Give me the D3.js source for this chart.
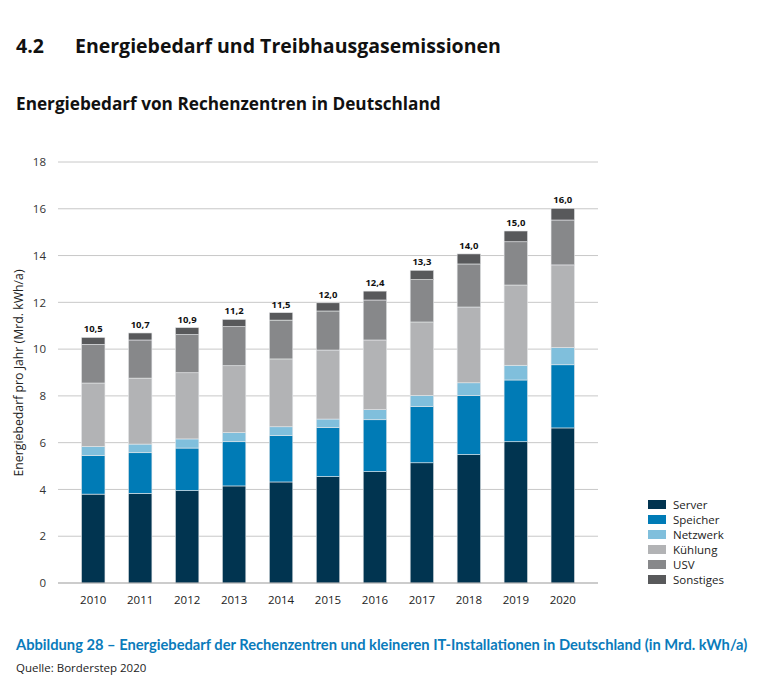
<!DOCTYPE html>
<html><head><meta charset="utf-8">
<script src="https://cdn.jsdelivr.net/npm/d3@7"></script>
<style>
body{margin:0;background:#fff;}
svg{display:block;font-family:"Open Sans",Lato,sans-serif;}
</style></head>
<body>
<svg id="c" width="757" height="690"></svg>
<script>
const years = ["2010","2011","2012","2013","2014","2015","2016","2017","2018","2019","2020"];
const seriesNames = ["Server","Speicher","Netzwerk","Kühlung","USV","Sonstiges"];
const server    = [3.80,3.83,3.95,4.15,4.32,4.55,4.76,5.14,5.49,6.04,6.63];
const speicher  = [1.65,1.74,1.82,1.89,1.98,2.09,2.22,2.40,2.53,2.64,2.70];
const netzwerk  = [0.39,0.37,0.39,0.39,0.38,0.37,0.43,0.48,0.54,0.63,0.74];
const kuehlung  = [2.71,2.82,2.83,2.86,2.90,2.95,2.98,3.14,3.24,3.43,3.53];
const usv       = [1.65,1.63,1.63,1.67,1.66,1.67,1.71,1.81,1.84,1.85,1.92];
const sonstiges = [0.30,0.30,0.30,0.31,0.32,0.35,0.38,0.40,0.43,0.46,0.50];
const totals    = ["10,5","10,7","10,9","11,2","11,5","12,0","12,4","13,3","14,0","15,0","16,0"];
const yTicks    = [0,2,4,6,8,10,12,14,16,18];
const colors    = ["#013450","#007bb6","#80bfdc","#b2b3b5","#87888a","#58595b"];

const FONT = "'Open Sans',Lato,sans-serif";
const svg = d3.select("#c");
const seriesVals = [server,speicher,netzwerk,kuehlung,usv,sonstiges];
const rows = years.map((y,i)=>{const o={year:y}; seriesNames.forEach((s,k)=>o[s]=seriesVals[k][i]); return o;});

const x = d3.scaleBand().domain(years).range([58,598]).paddingInner(0.5).paddingOuter(0.5);
const y = d3.scaleLinear().domain([0,18]).range([583,162]);

// title texts
svg.append("text").attr("x",16).attr("y",53).attr("font-size",19.5).attr("font-weight",700).attr("fill","#111").text("4.2");
svg.append("text").attr("x",75).attr("y",53).attr("font-size",19.5).attr("font-weight",700).attr("fill","#111").text("Energiebedarf und Treibhausgasemissionen");
svg.append("text").attr("x",16).attr("y",110).attr("font-size",17.2).attr("font-weight",700).attr("fill","#111").text("Energiebedarf von Rechenzentren in Deutschland");

// gridlines
svg.append("g").selectAll("line").data(yTicks.filter(d=>d>0)).join("line")
  .attr("x1",58).attr("x2",598).attr("y1",d=>y(d)).attr("y2",d=>y(d))
  .attr("stroke","#c8c8c8").attr("stroke-width",1);

// y axis
const ya = svg.append("g").attr("transform","translate(58,0)")
  .call(d3.axisLeft(y).tickValues(yTicks).tickSize(0).tickPadding(12).tickFormat(d3.format("d")));
ya.select(".domain").remove();
ya.selectAll("text").attr("font-size",11.5).attr("fill","#333").attr("font-family",FONT);

svg.append("text").attr("transform","translate(23,373) rotate(-90)").attr("text-anchor","middle")
  .attr("font-size",12.3).attr("fill","#222").text("Energiebedarf pro Jahr (Mrd. kWh/a)");

// stacked bars
const stacked = d3.stack().keys(seriesNames)(rows);
svg.append("g").selectAll("g").data(stacked).join("g").attr("fill",(d,i)=>colors[i])
  .selectAll("rect").data(d=>d).join("rect")
  .attr("x",d=>x(d.data.year)).attr("width",x.bandwidth())
  .attr("y",d=>y(d[1])).attr("height",d=>y(d[0])-y(d[1]))
  .attr("stroke","#e6e8ea").attr("stroke-width",0.6);

// baseline
svg.append("line").attr("x1",58).attr("x2",598).attr("y1",y(0)).attr("y2",y(0)).attr("stroke","#9a9a9a").attr("stroke-width",1.2);

// x axis
const xa = svg.append("g").attr("transform",`translate(0,${y(0)})`)
  .call(d3.axisBottom(x).tickSize(0).tickPadding(13));
xa.select(".domain").remove();
xa.selectAll("text").attr("font-size",11.5).attr("fill","#222").attr("font-family",FONT);

// totals
const topLayer = stacked[stacked.length-1];
svg.append("g").selectAll("text").data(topLayer).join("text")
  .attr("x",d=>x(d.data.year)+x.bandwidth()/2).attr("y",d=>y(d[1])-5)
  .attr("text-anchor","middle").attr("font-size",9.5).attr("font-weight",700).attr("fill","#111")
  .text((d,i)=>totals[i]);

// legend
const lg = svg.append("g").attr("transform","translate(648,500)");
seriesNames.forEach((s,i)=>{
  lg.append("rect").attr("x",0).attr("y",i*15).attr("width",18).attr("height",9).attr("fill",colors[i]);
  lg.append("text").attr("x",25).attr("y",i*15+9).attr("font-size",11.5).attr("fill","#222").text(s);
});

// caption
svg.append("text").attr("x",16).attr("y",650).attr("font-size",14.7).attr("font-weight",700).attr("fill","#0a7bbb")
  .attr("font-family","Lato,'Open Sans',sans-serif")
  .text("Abbildung 28 – Energiebedarf der Rechenzentren und kleineren IT-Installationen in Deutschland (in Mrd. kWh/a)");
svg.append("text").attr("x",16).attr("y",672).attr("font-size",11.5).attr("fill","#222").text("Quelle: Borderstep 2020");
</script>
</body></html>
